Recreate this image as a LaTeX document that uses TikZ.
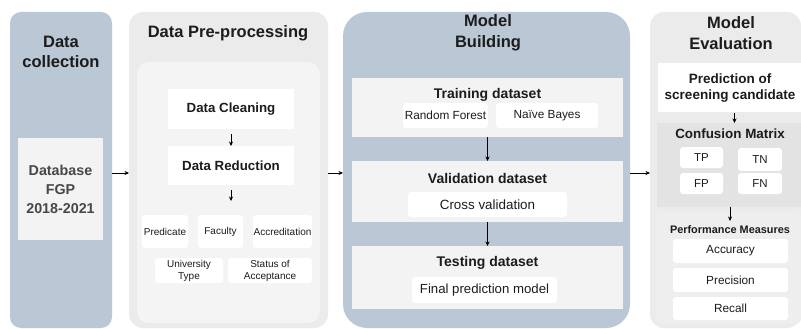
\documentclass[tikz,border=0pt]{standalone}
\usepackage{fontspec}
\setmainfont{Liberation Sans}
\usetikzlibrary{arrows.meta}
\definecolor{bluep}{HTML}{BAC7D4}
\definecolor{greyp}{HTML}{EBEBEB}
\definecolor{greyin}{HTML}{F4F4F4}
\definecolor{bandc}{HTML}{F3F3F3}
\definecolor{cmc}{HTML}{E3E3E3}
\definecolor{pmc}{HTML}{EEEEEE}
\definecolor{txt}{HTML}{1C1C1C}
\definecolor{dbtxt}{HTML}{474747}
\newcommand\rbox[7]{\node[#1,anchor=north west,minimum width={(#4)-(#2)},minimum height={(#5)-(#3)}] (#6) at (#2,#3) {#7};}
\tikzset{
  base/.style={inner sep=0pt,outer sep=0pt,draw=none,align=center,text=txt},
  panel/.style={base,rounded corners=12pt},
  wbox/.style={base,fill=white,rounded corners=3pt},
  band/.style={base,fill=bandc},
  ttl/.style={inner sep=0pt,align=center,text=txt,font=\fontsize{16.5}{20.5}\selectfont\bfseries},
  sub/.style={inner sep=0pt,align=center,text=txt,font=\fontsize{14}{16}\selectfont\bfseries},
  arr/.style={-{Stealth[length=4.5pt,width=4pt]},line width=0.6pt,black},
}
\begin{document}
\begin{tikzpicture}[x=1pt,y=-1pt]
\useasboundingbox[fill=white] (0,0) rectangle (801,329);
% panels
\rbox{panel,fill=bluep,rounded corners=11pt}{10}{12}{112}{328}{dc}{}
\rbox{panel,fill=greyp,rounded corners=14pt}{129}{12}{328}{328}{dp}{}
\rbox{panel,fill=greyin,rounded corners=12pt}{137}{62}{320}{323}{dpin}{}
\rbox{panel,fill=bluep,rounded corners=24pt}{343}{12}{630}{328}{mb}{}
\rbox{panel,fill=greyp,rounded corners=14pt}{650}{12}{801}{328}{me}{}
% titles
\node[ttl] (tdc) at (61,52) {Data\\collection};
\node[ttl] (tdp) at (228,33) {Data Pre-processing};
\node[ttl] (tmb) at (488,33) {Model\\Building};
\node[ttl] (tme) at (731,33) {Model\\Evaluation};
% data collection
\rbox{base,fill=bandc,text=dbtxt,font=\fontsize{14.3}{19}\selectfont\bfseries}{18}{138}{103}{240}{db}{Database\\FGP\\2018-2021}
% pre-processing
\rbox{base,fill=white,font=\fontsize{13.3}{16}\selectfont\bfseries}{168}{89}{294}{129}{dcl}{Data Cleaning}
\rbox{base,fill=white,font=\fontsize{13.3}{16}\selectfont\bfseries}{168}{146}{294}{185}{drd}{Data Reduction}
\tikzset{small/.style={wbox,font=\fontsize{10}{12}\selectfont}}
\rbox{small}{142}{215}{188}{248}{pred}{Predicate}
\rbox{small}{198}{215}{243}{248}{fac}{Faculty}
\rbox{small}{253}{215}{312}{248}{acc}{Accreditation}
\rbox{small}{155}{258}{223}{283}{ut}{University\\Type}
\rbox{small}{228}{258}{312}{283}{soa}{Status of\\Acceptance}
\coordinate (attr) at (231,201);
% model building
\rbox{band}{352}{78}{623}{137}{trn}{}
\rbox{band}{352}{161}{623}{222}{val}{}
\rbox{band}{352}{246}{623}{309}{tst}{}
\node[sub] (ttrn) at (487.5,95) {Training dataset};
\node[sub] (tval) at (487.5,178) {Validation dataset};
\node[sub] (ttst) at (487.5,263) {Testing dataset};
\tikzset{mid/.style={wbox,font=\fontsize{11.8}{14}\selectfont}}
\rbox{mid}{403}{103}{488}{128}{rf}{Random Forest}
\rbox{mid}{496}{103}{598}{128}{nb}{Naïve Bayes}
\rbox{mid,font=\fontsize{13.4}{16}\selectfont}{408}{192}{567}{217}{cv}{Cross validation}
\rbox{mid,font=\fontsize{13.2}{16}\selectfont}{412}{277}{557}{303}{fpm}{Final prediction model}
% model evaluation
\rbox{base,fill=white,font=\fontsize{13.5}{16.5}\selectfont\bfseries}{658}{63}{801}{112}{pcand}{}
\node[sub,font=\fontsize{13.5}{16.5}\selectfont\bfseries] (tpc) at (730,88) {Prediction of\\screening candidate};
\rbox{base,fill=cmc}{657}{123}{801}{207}{cm}{}
\node[sub,font=\fontsize{13.4}{16}\selectfont\bfseries] (tcm) at (730,134) {Confusion Matrix};
\tikzset{cell/.style={wbox,font=\fontsize{11.5}{14}\selectfont}}
\rbox{cell}{680}{147}{723}{168}{tp}{TP}
\rbox{cell}{738}{148}{782}{171}{tn}{TN}
\rbox{cell}{680}{173}{723}{194}{fp}{FP}
\rbox{cell}{738}{173}{782}{194}{fn}{FN}
\rbox{base,fill=pmc,rounded corners=6pt}{656}{212}{801}{324}{pm}{}
\node[sub,font=\fontsize{10.9}{13}\selectfont\bfseries] (tpm) at (730,230) {Performance Measures};
\tikzset{meas/.style={wbox,font=\fontsize{11.8}{14}\selectfont}}
\rbox{meas}{673}{239}{788}{263}{acy}{Accuracy}
\rbox{meas}{673}{268}{788}{292}{prc}{Precision}
\rbox{meas}{673}{297}{788}{320}{rcl}{Recall}
\coordinate (pmin) at (730,221);
% connectors
\draw[arr] ([yshift=-3pt]dc.east) -- ([yshift=-3pt]dp.west);
\draw[arr] ([yshift=-3pt]dp.east) -- ([yshift=-3pt]mb.west);
\draw[arr] ([yshift=-3pt]mb.east) -- ([yshift=-3pt]me.west);
\draw[arr] ([yshift=-5pt]dcl.south) -- (drd.north);
\draw[arr] ([yshift=-5pt]drd.south) -- (attr);
\draw[arr] (trn.south) -- (val.north);
\draw[arr] (val.south) -- (tst.north);
\draw[arr] ([xshift=5pt,yshift=-1pt]pcand.south) -- ([xshift=5pt]pcand.south |- cm.north);
\draw[arr] (cm.south -| tcm) -- (pmin);
\end{tikzpicture}
\end{document}
